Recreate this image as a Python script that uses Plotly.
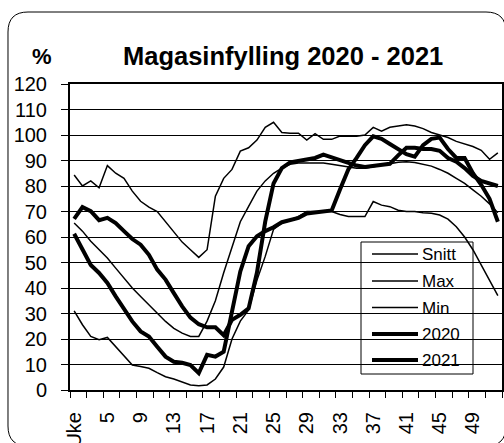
import plotly.graph_objects as go

weeks = list(range(1, 53))

snitt = [65.5, 62.3, 58.3, 55, 51.8, 47.8, 43.9, 40, 36.7, 33.4,
         30.1, 26.9, 24.2, 22.3, 21, 21, 27, 35, 46, 56,
         66, 72, 78, 82, 85, 87, 88.5, 89, 89, 89,
         89, 88.5, 88, 87.5, 87, 87, 87.5, 88, 88.7, 89.3,
         89.5, 89.2, 88.5, 87.8, 86.5, 85, 83, 81, 78.5, 76, 73, 69.5]

maks = [84.3, 80, 82, 79.3, 88, 85, 83, 78, 74, 71.7,
        70, 66, 62, 58, 55, 52, 55, 76, 83, 86.5,
        93.7, 95, 98, 103, 105, 101, 100.7, 100.7, 98, 100.5,
        98.3, 98.3, 99.6, 99.6, 99.5, 100, 103, 101.5, 103, 103.5,
        104, 103.5, 102.5, 101, 100, 99, 97.5, 96.5, 95.5, 94, 90.5, 93]

minimum = [31, 25.6, 21, 19.7, 20.6, 17, 13.8, 9.8, 9.2, 8.5,
           6.8, 5.2, 4.3, 3.3, 2, 1.7, 2, 4.3, 9, 20,
           27, 31.4, 43, 52.4, 63, 65.5, 66.8, 68, 70, 70,
           70, 70, 68.8, 68, 68, 68, 73.9, 72.5, 71.9, 70.5,
           70, 70, 69.5, 69.3, 68.6, 67, 64, 60, 55, 49, 43, 37]

y2020 = [67.1, 71.7, 70.1, 66.6, 67.5, 65.5, 62.3, 59.2, 57, 53,
         47.2, 43.3, 38, 32.8, 28.4, 25.8, 24.6, 24.6, 21.5, 27.5,
         29.5, 32, 46, 66, 81, 87, 89.3, 89.8, 90.4, 91,
         92.3, 91.3, 90, 89, 88, 87.5, 87.8, 88.3, 88.7, 92,
         95, 95, 94.5, 94.5, 93.8, 91, 89.5, 87, 84, 82, 81, 80]

y2021 = [61.3, 55, 49, 45.9, 42, 36.7, 31.5, 26.9, 23, 21,
         17, 13.1, 11.1, 10.7, 9.8, 6.6, 13.8, 13.1, 15, 31,
         46.5, 56.4, 60.3, 62.3, 63.8, 65.8, 66.8, 67.5, 69.2, 69.7,
         70, 70.4, 78.6, 86.5, 91, 96, 99.5, 98.5, 96.5, 94.5,
         92.5, 91.5, 96, 98.5, 99, 94.5, 91, 91, 85, 80.5, 75, 66]

tick_weeks = [1, 5, 9, 13, 17, 21, 25, 29, 33, 37, 41, 45, 49]
tick_text = ["Uke", "5", "9", "13", "17", "21", "25", "29", "33", "37", "41", "45", "49"]

series = [("Snitt", snitt, 1.5), ("Max", maks, 1.5), ("Min", minimum, 1.5),
          ("2020", y2020, 4), ("2021", y2021, 4)]

FONT = "Liberation Sans, Arial, sans-serif"

fig = go.Figure()
for name, vals, w in series:
    fig.add_trace(go.Scatter(x=weeks, y=vals, mode="lines", name=name,
                             line=dict(color="black", width=w), showlegend=False,
                             hoverinfo="skip"))

L, R, T, B = 70, 2, 84, 53
W, H = 504, 443
pw = W - L - R
ph = H - T - B


def px2x(px):
    return (px - L) / pw


def py2y(py):
    return (H - B - py) / ph


def pt(px, py):
    return f"{px2x(px):.5f},{py2y(py):.5f}"


x0, y0, x1, y1, r = 8, 12, 506, 446, 20
path = (f"M{pt(x0, y0 + r)} Q{pt(x0, y0)} {pt(x0 + r, y0)} L{pt(x1 - r, y0)} "
        f"Q{pt(x1, y0)} {pt(x1, y0 + r)} L{pt(x1, y1 - r)} Q{pt(x1, y1)} {pt(x1 - r, y1)} "
        f"L{pt(x0 + r, y1)} Q{pt(x0, y1)} {pt(x0, y1 - r)} Z")

shapes = [dict(type="path", xref="paper", yref="paper", path=path,
               line=dict(color="black", width=1), fillcolor="rgba(0,0,0,0)",
               layer="above")]
annotations = [
    dict(text="<b>Magasinfylling 2020 - 2021</b>", x=px2x(283), y=py2y(56),
         xref="paper", yref="paper", xanchor="center", yanchor="middle",
         showarrow=False, font=dict(size=25.5, family=FONT, color="black")),
    dict(text="<b>%</b>", x=px2x(42), y=py2y(56), xref="paper", yref="paper",
         xanchor="center", yanchor="middle", showarrow=False,
         font=dict(size=22, family=FONT, color="black")),
]

# legend (drawn by hand to match the long sample lines of the original)
shapes.append(dict(type="rect", xref="paper", yref="paper",
                   x0=px2x(361), x1=px2x(473), y0=py2y(242), y1=py2y(374),
                   line=dict(color="black", width=1), fillcolor="rgba(0,0,0,0)",
                   layer="above"))
leg_y = [254, 281, 307.5, 334, 360]
for (name, _, w), ly in zip(series, leg_y):
    shapes.append(dict(type="line", xref="paper", yref="paper",
                       x0=px2x(372), x1=px2x(418), y0=py2y(ly), y1=py2y(ly),
                       line=dict(color="black", width=w), layer="above"))
    annotations.append(dict(text=name, x=px2x(420), y=py2y(ly + 0.5), xref="paper",
                            yref="paper", xanchor="left", yanchor="middle",
                            showarrow=False,
                            font=dict(size=17, family=FONT, color="black")))

fig.update_layout(
    width=W, height=H,
    margin=dict(l=L, r=R, t=T, b=B, pad=0, autoexpand=False),
    paper_bgcolor="white", plot_bgcolor="white",
    font=dict(family=FONT, color="black"),
    showlegend=False,
    hovermode=False,
    xaxis=dict(range=[0.5, 52.5], tickmode="array", tickvals=tick_weeks, ticktext=tick_text,
               tickangle=-90, ticks="", showgrid=False, zeroline=False, automargin=False,
               showline=True, mirror=True, linecolor="black", linewidth=2,
               tickfont=dict(size=20, family=FONT, color="black"),
               ticklabelstandoff=12,
               minor=dict(tick0=0.5, dtick=2, ticks="outside", ticklen=6,
                          tickcolor="black", tickwidth=1, showgrid=False)),
    yaxis=dict(range=[0, 120], tick0=0, dtick=10, showgrid=True, gridcolor="black",
               gridwidth=1, zeroline=False, ticks="outside", ticklen=7, automargin=False,
               tickcolor="black", showline=True, mirror=True, linecolor="black",
               linewidth=2, tickfont=dict(size=20, family=FONT, color="black"),
               ticklabelstandoff=10),
    shapes=shapes,
    annotations=annotations,
)

fig.write_html("out.html", config={"displayModeBar": False, "staticPlot": True},
               post_script="document.body.style.margin='0px';document.body.style.overflow='hidden';")
